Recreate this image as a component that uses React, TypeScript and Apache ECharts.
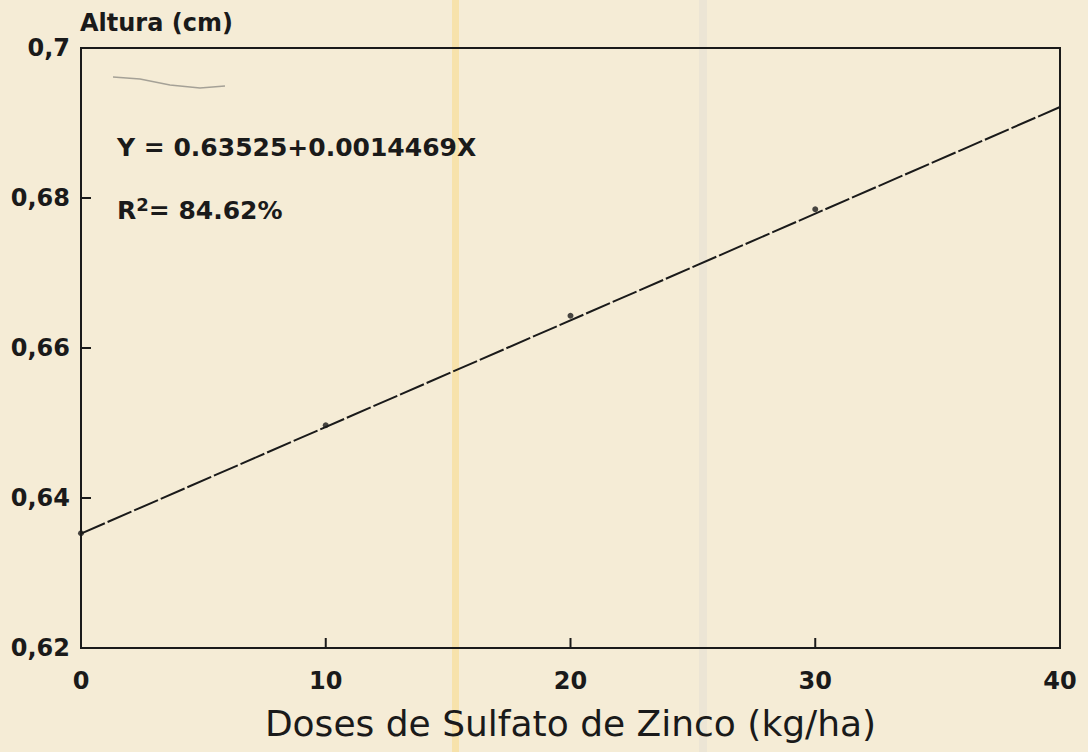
import React, { useEffect, useRef } from "react";
import * as echarts from "echarts";

const doseX = [0, 10, 20, 30];
const alturaY = [0.6353, 0.6497, 0.6643, 0.6785];
const fitX = [0, 40];
const fitY = [0.63525, 0.69213];
const yTicks = [0.62, 0.64, 0.66, 0.68, 0.7];
const xTicks = [0, 10, 20, 30, 40];
const equationText = "Y = 0.63525+0.0014469X";
const r2Value = "84.62%";

export default function App() {
  const ref = useRef<HTMLDivElement>(null);
  useEffect(() => {
    document.body.style.margin = "0";
    const chart = echarts.init(ref.current!, null, { renderer: "svg" });
    const font = "DejaVu Sans";
    const ink = "#1a1a1a";
    const tickData = [
      ...yTicks.slice(1, -1).map((y) => [xTicks[0], y, 0]),
      ...xTicks.slice(1, -1).map((x) => [x, yTicks[0], 1]),
    ];
    chart.setOption({
      animation: false,
      backgroundColor: "#f5ecd6",
      grid: {
        left: 81,
        right: 28,
        top: 48,
        bottom: 104,
        show: true,
        borderColor: ink,
        borderWidth: 2,
        backgroundColor: "transparent",
      },
      xAxis: {
        type: "value",
        min: xTicks[0],
        max: xTicks[xTicks.length - 1],
        interval: 10,
        name: "Doses de Sulfato de Zinco (kg/ha)",
        nameLocation: "middle",
        nameGap: 57,
        nameTextStyle: { fontFamily: font, fontSize: 36, color: ink },
        axisLine: { show: true, lineStyle: { color: ink, width: 2 } },
        axisTick: { show: false },
        axisLabel: { fontFamily: font, fontSize: 24, fontWeight: "bold", color: ink, margin: 21 },
        splitLine: { show: false },
      },
      yAxis: {
        type: "value",
        min: yTicks[0],
        max: yTicks[yTicks.length - 1],
        interval: 0.02,
        axisLine: { show: true, lineStyle: { color: ink, width: 2 } },
        axisTick: { show: false },
        axisLabel: {
          fontFamily: font,
          fontSize: 24,
          fontWeight: "bold",
          color: ink,
          margin: 11,
          formatter: (v: number) => v.toFixed(2).replace(/0$/, "").replace(".", ","),
        },
        splitLine: { show: false },
      },
      graphic: [
        { type: "rect", shape: { x: 452, y: 0, width: 7, height: 752 }, style: { fill: "#f8e0a0", opacity: 0.8 }, silent: true, z: -10 },
        { type: "rect", shape: { x: 699, y: 0, width: 8, height: 752 }, style: { fill: "#e8e3d4", opacity: 0.7 }, silent: true, z: -10 },
        {
          type: "polyline",
          shape: { points: [[113, 77], [140, 79], [170, 85], [200, 88], [225, 86]] },
          style: { stroke: "#6f6f6c", lineWidth: 1.5, fill: "none", opacity: 0.6 },
          silent: true,
        },
        {
          type: "text",
          left: 80,
          top: 11,
          style: { text: "Altura (cm)", fontFamily: font, fontSize: 24, fontWeight: "bold", fill: ink },
        },
        {
          type: "text",
          left: 117,
          top: 135,
          style: { text: equationText, fontFamily: font, fontSize: 25, fontWeight: "bold", fill: ink },
        },
        {
          type: "text",
          left: 117,
          top: 195,
          style: {
            text: "{r|R}{s|2}{r|= " + r2Value + "}",
            rich: {
              r: { fontFamily: font, fontSize: 25, fontWeight: "bold", fill: ink, verticalAlign: "bottom" },
              s: { fontFamily: font, fontSize: 18, fontWeight: "bold", fill: ink, verticalAlign: "top", padding: [0, 0, 10, 0] },
            },
          },
        },
      ],
      series: [
        {
          type: "line",
          data: fitX.map((x, i) => [x, fitY[i]]),
          showSymbol: false,
          lineStyle: { color: ink, width: 2, type: [26, 3] },
          z: 2,
        },
        {
          type: "scatter",
          data: doseX.map((x, i) => [x, alturaY[i]]),
          symbol: "circle",
          symbolSize: 6,
          itemStyle: { color: ink },
          z: 3,
        },
        {
          type: "custom",
          clip: false,
          silent: true,
          z: 5,
          data: tickData,
          renderItem: (_params: any, api: any) => {
            const p = api.coord([api.value(0), api.value(1)]);
            const horiz = api.value(2) === 0;
            return {
              type: "line",
              shape: horiz
                ? { x1: p[0], y1: p[1], x2: p[0] + 10, y2: p[1] }
                : { x1: p[0], y1: p[1], x2: p[0], y2: p[1] - 10 },
              style: { stroke: ink, lineWidth: 2 },
            };
          },
        },
      ],
    });
    return () => chart.dispose();
  }, []);
  return <div ref={ref} style={{ width: 1088, height: 752 }} />;
}
